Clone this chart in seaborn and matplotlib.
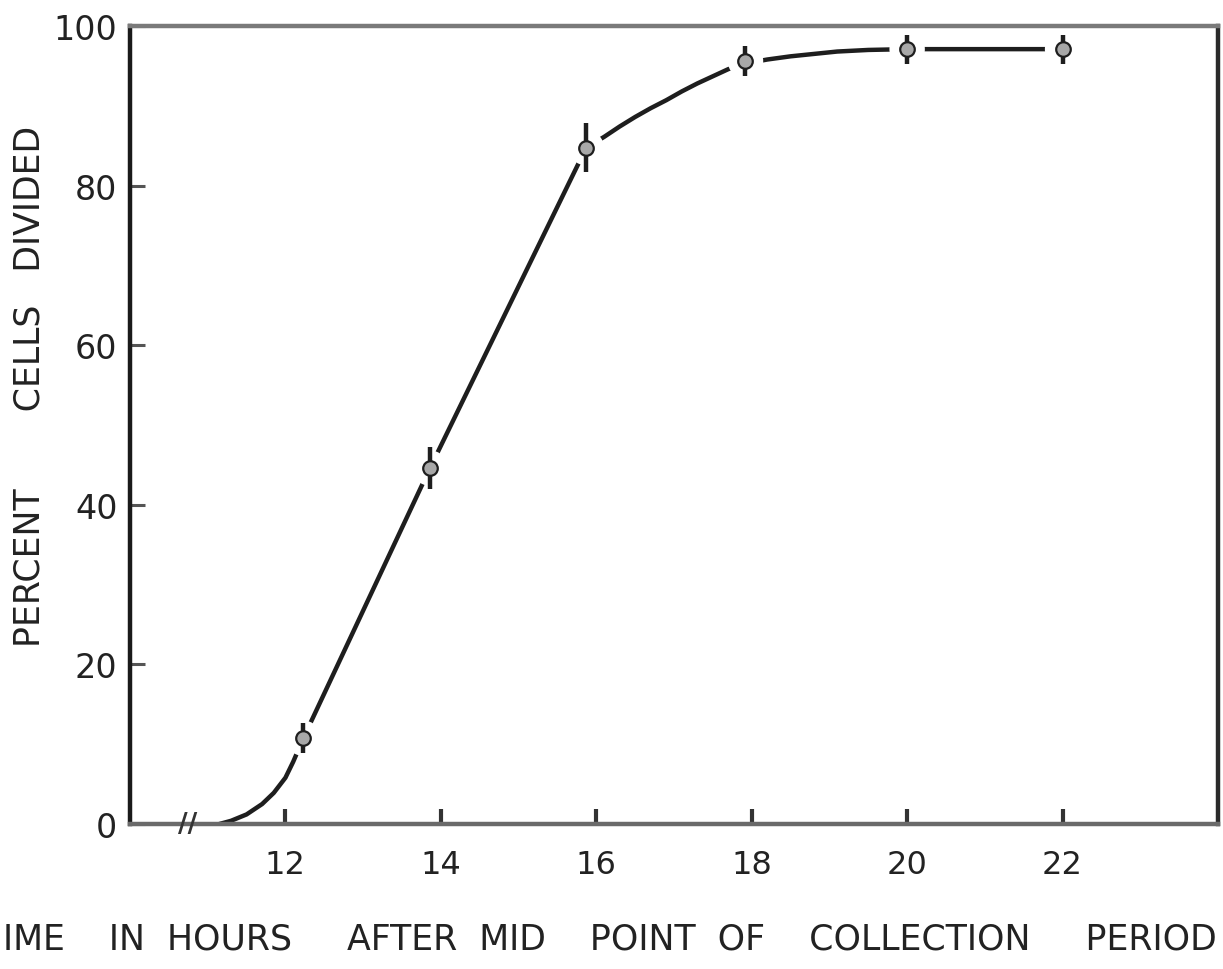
import numpy as np
import pandas as pd
import matplotlib
matplotlib.use("Agg")
import matplotlib.pyplot as plt
import seaborn as sns

# Measured points (hours after mid point of collection period, percent cells divided)
hours = [12.23, 13.86, 15.87, 17.92, 20.0, 22.0]
percent = [10.75, 44.6, 84.75, 95.6, 97.1, 97.1]
err = [1.9, 2.6, 3.1, 1.9, 1.8, 1.8]

# Hand-drawn smooth curve through the points
curve_x = [11.15, 11.3, 11.5, 11.7, 11.85, 12.0, 12.1, 12.23, 13.86, 15.87,
           16.1, 16.3, 16.5, 16.7, 16.9, 17.1, 17.3, 17.5, 17.7, 17.92,
           18.2, 18.5, 18.8, 19.1, 19.5, 20.0, 21.0, 22.0]
curve_y = [0.0, 0.4, 1.2, 2.5, 3.9, 5.8, 7.8, 10.75, 44.6, 84.75,
           86.1, 87.4, 88.6, 89.7, 90.7, 91.8, 92.8, 93.7, 94.6, 95.3,
           95.8, 96.2, 96.5, 96.8, 97.0, 97.1, 97.1, 97.1]

break_x = 10.74
x_ticks = [12, 14, 16, 18, 20, 22]
y_ticks = [0, 20, 40, 60, 80, 100]

sns.set_style("white")
plt.rcParams['font.family'] = ['DejaVu Sans']

fig = plt.figure(figsize=(12.23, 9.70), dpi=100)
ax = fig.add_axes([130/1223, 1-825/970, (1218-130)/1223, (825-27)/970])

ink = "#1e1e1e"
df_curve = pd.DataFrame({"x": curve_x, "y": curve_y})
sns.lineplot(data=df_curve, x="x", y="y", sort=False, estimator=None,
             color=ink, lw=3.2, ax=ax, zorder=2)

df_pts = pd.DataFrame({"x": hours, "y": percent, "e": err})
# white halo to leave the gaps around each point
sns.scatterplot(data=df_pts, x="x", y="y", s=650, color="white",
                edgecolor="none", ax=ax, zorder=3)
ax.vlines(df_pts["x"], df_pts["y"] - df_pts["e"], df_pts["y"] + df_pts["e"],
          color=ink, lw=3.2, zorder=4)
sns.scatterplot(data=df_pts, x="x", y="y", s=110, color="#a8a8a8",
                edgecolor=ink, linewidth=1.6, ax=ax, zorder=5)

# axis break mark
ax.text(break_x, 0, "//", ha="center", va="center", fontsize=19,
        fontweight="bold", color="#333333", zorder=6)

ax.set_xlim(10, 24)
ax.set_ylim(0, 100)
ax.set_xticks(x_ticks)
ax.set_yticks(y_ticks)
ax.set_xticklabels([str(t) for t in x_ticks], fontsize=23, color="#222222")
ax.set_yticklabels([str(t) for t in y_ticks], fontsize=24, color="#222222")
ax.tick_params(axis="x", bottom=True, direction="in", length=11, width=3,
               pad=18, color="#333333")
ax.tick_params(axis="y", left=True, direction="in", length=11, width=2.2,
               pad=9, color="#555555")
ax.set_xlabel("")
ax.set_ylabel("")

for side, sp in ax.spines.items():
    sp.set_visible(True)
ax.spines["left"].set_color("#1a1a1a")
ax.spines["left"].set_linewidth(3.2)
ax.spines["bottom"].set_color("#6a6a6a")
ax.spines["bottom"].set_linewidth(3.2)
ax.spines["top"].set_color("#7a7a7a")
ax.spines["top"].set_linewidth(3.2)
ax.spines["right"].set_color("#2a2a2a")
ax.spines["right"].set_linewidth(3.2)

fig.text(30/1223, 1-386/970, "PERCENT       CELLS   DIVIDED", rotation=90,
         ha="center", va="center", fontsize=25, color="#222222")
fig.text(610/1223, 1-940/970,
         "IME    IN  HOURS     AFTER  MID    POINT  OF    COLLECTION     PERIOD",
         ha="center", va="center", fontsize=25, color="#222222")

fig.savefig("out.png", dpi=100, facecolor="white")
